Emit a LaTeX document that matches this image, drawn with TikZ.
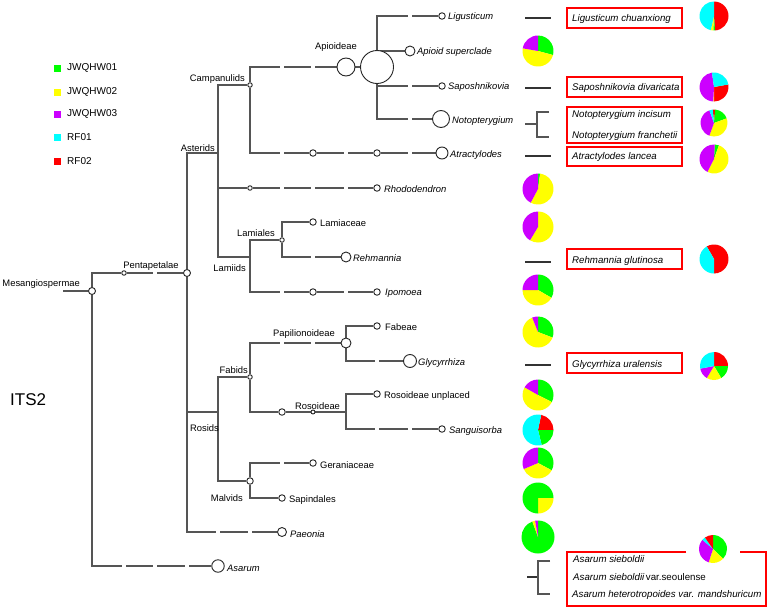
\documentclass[tikz,border=0pt]{standalone}
\usepackage{fontspec}
\setmainfont{Liberation Sans}
\definecolor{pgreen}{RGB}{0,255,0}
\definecolor{pyellow}{RGB}{255,255,0}
\definecolor{ppurple}{RGB}{204,0,255}
\definecolor{pcyan}{RGB}{0,255,255}
\definecolor{pred}{RGB}{255,0,0}
\definecolor{treegray}{RGB}{85,85,85}
\pgfdeclarelayer{bgzero}
\pgfdeclarelayer{bglines}
\pgfsetlayers{bgzero,bglines,main}
\newcommand{\tn}[4]{\node[tc, minimum size=#4pt] (#1) at (#2,-#3) {};}
\newcommand{\psl}[5]{\fill[#5] (#1) -- ++({90-(#3)}:#2) arc[start angle={90-(#3)}, end angle={90-(#4)}, radius=#2] -- cycle;}
\newcommand{\gapat}[2]{\fill[white] (#1-1.8,-#2-1.6) rectangle (#1+1.8,-#2+1.6);}
\tikzset{
  tc/.style={circle, draw=black!85, fill=white, line width=0.9pt, inner sep=0pt},
  tl/.style={draw=treegray, line width=1.2pt},
  sl/.style={draw=black!80, line width=1.1pt},
  lab/.style={inner sep=0pt, font=\fontsize{9.4}{11}\selectfont},
  itl/.style={inner sep=0pt, font=\fontsize{9.4}{11}\selectfont\itshape},
  bxt/.style={inner sep=0pt, font=\fontsize{9.7}{11}\selectfont\itshape, anchor=base west},
  leg/.style={inner sep=0pt, font=\fontsize{10}{12}\selectfont, anchor=west},
  rbox/.style={draw=pred, line width=2pt},
}
\begin{document}
\begin{tikzpicture}[x=1pt,y=1pt]
\useasboundingbox (0,0) rectangle (768,-608);
\begin{pgfonlayer}{bgzero}
\fill[white] (0,0) rectangle (768,-608);
\end{pgfonlayer}

% ---------- legend ----------
\foreach \yy/\cc/\lt in {68/pgreen/JWQHW01, 92/pyellow/JWQHW02, 114/ppurple/JWQHW03, 137/pcyan/RF01, 161/pred/RF02}{
  \node[fill=\cc, minimum size=7pt, inner sep=0pt] (lg\lt) at (57.5,-\yy) {};
  \node[leg] (lgt\lt) at (67,-\yy) {\lt};
}
\node[inner sep=0pt, anchor=base west, font=\fontsize{17}{20}\selectfont] (its) at (10,-405) {ITS2};

% ---------- tree nodes ----------
\coordinate (rootL) at (63,-291);
\tn{R}{92}{291}{7}
\tn{P1}{124}{273}{4.5}
\tn{P}{187}{273}{7}
\coordinate (A) at (218,-153);
\tn{C}{250}{85}{4.5}
\tn{Ap1}{346}{67}{18}
\tn{Ap2}{377}{67}{33}
\tn{Lig}{442}{16}{6.5}
\tn{Aps}{410}{51}{10}
\tn{Sapo}{442}{86}{6.5}
\tn{Not}{441}{119}{17}
\tn{At1}{313}{153}{6.5}
\tn{At2}{377}{153}{6.5}
\tn{At3}{442}{153}{12}
\tn{Rh1}{250}{188}{4.5}
\tn{Rh2}{377}{188}{6.5}
\coordinate (Lm) at (250,-257);
\tn{La}{282}{240}{4.5}
\tn{Lac}{313}{222}{6.5}
\tn{Reh}{346}{257}{10}
\tn{Ip1}{313}{292}{6.5}
\tn{Ip2}{377}{292}{6.5}
\coordinate (Ro) at (218,-412);
\tn{Fa}{250}{377}{4.5}
\tn{Pap}{346}{343}{10}
\tn{Fab}{377}{326}{6.5}
\tn{Gly}{410}{361}{13}
\tn{RoA}{282}{412}{6.5}
\tn{RoB}{313}{412}{4}
\coordinate (RoJ) at (346,-412);
\tn{RU}{377}{394}{6.5}
\tn{San}{442}{429}{6.5}
\tn{Mv}{250}{481}{6.5}
\tn{Ger}{313}{463}{6.5}
\tn{Sap}{282}{498}{6.5}
\tn{Pae}{282}{532}{9}
\tn{As}{218}{566}{12.5}

% ---------- tree connectors ----------
\begin{pgfonlayer}{bglines}
\draw[tl] (rootL) -- (R);
\draw[tl] (R) |- (P1); \draw[tl] (P1) -- (P);
\draw[tl] (R) |- (As);
\draw[tl] (P) |- (A); \draw[tl] (P) |- (Ro); \draw[tl] (P) |- (Pae);
\draw[tl] (A) |- (C); \draw[tl] (A) |- (Rh1); \draw[tl] (A) |- (Lm);
\draw[tl] (C) |- (Ap1); \draw[tl] (Ap1) -- (Ap2);
\draw[tl] (C) |- (At1); \draw[tl] (At1) -- (At2) -- (At3);
\draw[tl] (Ap2) |- (Lig); \draw[tl] (Ap2) |- (Aps); \draw[tl] (Ap2) |- (Sapo); \draw[tl] (Ap2) |- (Not);
\draw[tl] (Rh1) -- (Rh2);
\draw[tl] (Lm) |- (La); \draw[tl] (Lm) |- (Ip1); \draw[tl] (Ip1) -- (Ip2);
\draw[tl] (La) |- (Lac); \draw[tl] (La) |- (Reh);
\draw[tl] (Ro) |- (Fa); \draw[tl] (Ro) |- (Mv);
\draw[tl] (Fa) |- (Pap); \draw[tl] (Fa) |- (RoA); \draw[tl] (RoA) -- (RoB) -- (RoJ);
\draw[tl] (Pap) |- (Fab); \draw[tl] (Pap) |- (Gly);
\draw[tl] (RoJ) |- (RU); \draw[tl] (RoJ) |- (San);
\draw[tl] (Mv) |- (Ger); \draw[tl] (Mv) |- (Sap);
% breaks in the branches
\gapat{155}{273}
\gapat{282}{67}\gapat{313}{67}
\gapat{410}{16}\gapat{410}{86}\gapat{410}{119}
\gapat{282}{153}\gapat{346}{153}\gapat{410}{153}
\gapat{282}{188}\gapat{313}{188}\gapat{346}{188}
\gapat{313}{257}
\gapat{282}{292}\gapat{346}{292}
\gapat{282}{343}\gapat{313}{343}
\gapat{377}{361}
\gapat{377}{429}\gapat{410}{429}
\gapat{282}{463}
\gapat{218}{532}\gapat{250}{532}
\gapat{124}{566}\gapat{155}{566}\gapat{187}{566}
\end{pgfonlayer}

% ---------- tree labels ----------
\node[lab, anchor=base east] (tMes) at (80,-286.4) {Mesangiospermae};
\node[lab, anchor=base] (tPen) at (151,-268.4) {Pentapetalae};
\node[lab, anchor=base east] (tAst) at (215,-151.4) {Asterids};
\node[lab, anchor=base east] (tCam) at (245,-81.4) {Campanulids};
\node[lab, anchor=base] (tApi) at (336,-49.4) {Apioideae};
\node[lab, anchor=base east] (tLmi) at (275,-236.4) {Lamiales};
\node[lab, anchor=base east] (tLmd) at (246,-271.4) {Lamiids};
\node[lab, anchor=base] (tPap) at (304,-336.4) {Papilionoideae};
\node[lab, anchor=base east] (tFab) at (248,-373.4) {Fabids};
\node[lab, anchor=base] (tRsd) at (317.5,-409.2) {Rosoideae};
\node[lab, anchor=base east] (tRos) at (219,-431.4) {Rosids};
\node[lab, anchor=base east] (tMal) at (243,-501.4) {Malvids};

\node[itl, anchor=base west] at (448,-19.4) {Ligusticum};
\node[itl, anchor=base west] at (417,-54.4) {Apioid superclade};
\node[itl, anchor=base west] at (448,-89.4) {Saposhnikovia};
\node[itl, anchor=base west] at (452,-123.4) {Notopterygium};
\node[itl, anchor=base west] at (450,-157.4) {Atractylodes};
\node[itl, anchor=base west] at (384,-192.4) {Rhododendron};
\node[lab, anchor=base west] at (320,-226.4) {Lamiaceae};
\node[itl, anchor=base west] at (353,-261.4) {Rehmannia};
\node[itl, anchor=base west] at (385,-295.4) {Ipomoea};
\node[lab, anchor=base west] at (385,-330.4) {Fabeae};
\node[itl, anchor=base west] at (418,-365.4) {Glycyrrhiza};
\node[lab, anchor=base west] at (384,-398.4) {Rosoideae unplaced};
\node[itl, anchor=base west] at (449,-433.4) {Sanguisorba};
\node[lab, anchor=base west] at (320,-468.4) {Geraniaceae};
\node[lab, anchor=base west] at (289,-502.4) {Sapindales};
\node[itl, anchor=base west] at (290,-537.4) {Paeonia};
\node[itl, anchor=base west] at (227,-571.4) {Asarum};

% ---------- pie column 1 ----------
\coordinate (q1) at (538,-51);
\psl{q1}{15.5}{0}{105}{pgreen}\psl{q1}{15.5}{105}{280}{pyellow}\psl{q1}{15.5}{280}{360}{ppurple}
\coordinate (q2) at (538,-189);
\psl{q2}{15.5}{0}{8}{pgreen}\psl{q2}{15.5}{8}{208}{pyellow}\psl{q2}{15.5}{208}{360}{ppurple}
\coordinate (q3) at (538,-227);
\psl{q3}{15.5}{0}{211}{pyellow}\psl{q3}{15.5}{211}{360}{ppurple}
\coordinate (q4) at (538,-290);
\psl{q4}{15.5}{0}{120}{pgreen}\psl{q4}{15.5}{120}{270}{pyellow}\psl{q4}{15.5}{270}{360}{ppurple}
\coordinate (q5) at (538,-332);
\psl{q5}{15.5}{0}{111}{pgreen}\psl{q5}{15.5}{111}{338}{pyellow}\psl{q5}{15.5}{338}{360}{ppurple}
\coordinate (q6) at (538,-395);
\psl{q6}{15.5}{0}{117}{pgreen}\psl{q6}{15.5}{117}{300}{pyellow}\psl{q6}{15.5}{300}{360}{ppurple}
\coordinate (q7) at (538,-430);
\psl{q7}{15.5}{12}{90}{pred}\psl{q7}{15.5}{90}{166}{pgreen}\psl{q7}{15.5}{166}{372}{pcyan}
\coordinate (q8) at (538,-463);
\psl{q8}{15.5}{0}{118}{pgreen}\psl{q8}{15.5}{118}{247}{pyellow}\psl{q8}{15.5}{247}{360}{ppurple}
\coordinate (q9) at (538,-498);
\psl{q9}{15.5}{0}{90}{pgreen}\psl{q9}{15.5}{90}{180}{pyellow}\psl{q9}{15.5}{180}{360}{pgreen}
\coordinate (q10) at (538,-537);
\psl{q10}{16.5}{0}{340}{pgreen}\psl{q10}{16.5}{340}{350}{pyellow}\psl{q10}{16.5}{350}{360}{ppurple}

% ---------- short lines and brackets ----------
\foreach \nm/\yy in {lig/18, sapo/88, atr/156, reh/262, gly/365}{
  \coordinate (s\nm a) at (525,-\yy); \coordinate (s\nm b) at (551,-\yy);
  \draw[sl] (s\nm a) -- (s\nm b);
}
\coordinate (nba) at (525,-124); \coordinate (nbm) at (537,-124);
\coordinate (nbt) at (549,-112); \coordinate (nbb) at (549,-137);
\draw[sl, draw=treegray] (nba) -- (nbm); \draw[sl, draw=treegray] (nbt) -| (nbm) |- (nbb);
\coordinate (aba) at (527,-577); \coordinate (abm) at (538,-577);
\coordinate (abt) at (550,-561); \coordinate (abb) at (550,-594);
\draw[sl] (aba) -- (abm); \draw[sl, draw=treegray] (abt) -| (abm) |- (abb);

% ---------- red boxes and names ----------
\draw[rbox] (567,-7.5) rectangle (682,-28);
\draw[rbox] (567,-76.5) rectangle (682,-97);
\draw[rbox] (567,-107) rectangle (682,-143);
\draw[rbox] (567,-146.5) rectangle (682,-166);
\draw[rbox] (567,-248.5) rectangle (682,-269);
\draw[rbox] (567,-353) rectangle (682,-373);
\draw[rbox] (686,-551.5) -- (567,-551.5) -- (567,-606) -- (766,-606) -- (766,-551.5) -- (740,-551.5);
\node[bxt] at (572,-21.4) {Ligusticum chuanxiong};
\node[bxt] at (572,-90.4) {Saposhnikovia divaricata};
\node[bxt] at (572,-117.4) {Notopterygium incisum};
\node[bxt] at (572,-138.4) {Notopterygium franchetii};
\node[bxt] at (572,-159.4) {Atractylodes lancea};
\node[bxt] at (572,-263.4) {Rehmannia glutinosa};
\node[bxt] at (572,-367.4) {Glycyrrhiza uralensis};
\node[bxt] at (573,-562.4) {Asarum sieboldii};
\node[bxt] at (573,-580.4) {Asarum sieboldii\,\upshape var.seoulense};
\node[bxt] at (572,-597.4) {Asarum heterotropoides var. mandshuricum};

% ---------- pie column 2 ----------
\coordinate (w1) at (714,-16);
\psl{w1}{14.5}{0}{176}{pred}\psl{w1}{14.5}{176}{183}{pgreen}\psl{w1}{14.5}{183}{193}{pyellow}\psl{w1}{14.5}{193}{360}{pcyan}
\coordinate (w2) at (714,-87);
\psl{w2}{14.5}{80}{180}{pred}\psl{w2}{14.5}{180}{183}{pyellow}\psl{w2}{14.5}{183}{352}{ppurple}\psl{w2}{14.5}{352}{440}{pcyan}
\coordinate (w3) at (714,-123);
\psl{w3}{13.5}{-5}{5}{pred}\psl{w3}{13.5}{5}{70}{pgreen}\psl{w3}{13.5}{70}{200}{pyellow}\psl{w3}{13.5}{200}{340}{ppurple}\psl{w3}{13.5}{340}{355}{pcyan}
\coordinate (w4) at (714,-159);
\psl{w4}{14.5}{3}{20}{pgreen}\psl{w4}{14.5}{20}{207}{pyellow}\psl{w4}{14.5}{207}{363}{ppurple}
\coordinate (w5) at (714,-259);
\psl{w5}{14.5}{-30}{180}{pred}\psl{w5}{14.5}{180}{330}{pcyan}
\coordinate (w6) at (714,-366);
\psl{w6}{14}{0}{90}{pred}\psl{w6}{14}{90}{149}{pgreen}\psl{w6}{14}{149}{211}{pyellow}\psl{w6}{14}{211}{259}{ppurple}\psl{w6}{14}{259}{360}{pcyan}
\coordinate (w7) at (713,-549);
\psl{w7}{14}{0}{134}{pgreen}\psl{w7}{14}{134}{198}{pyellow}\psl{w7}{14}{198}{311}{ppurple}\psl{w7}{14}{311}{325}{pcyan}\psl{w7}{14}{325}{360}{pred}
\end{tikzpicture}
\end{document}
